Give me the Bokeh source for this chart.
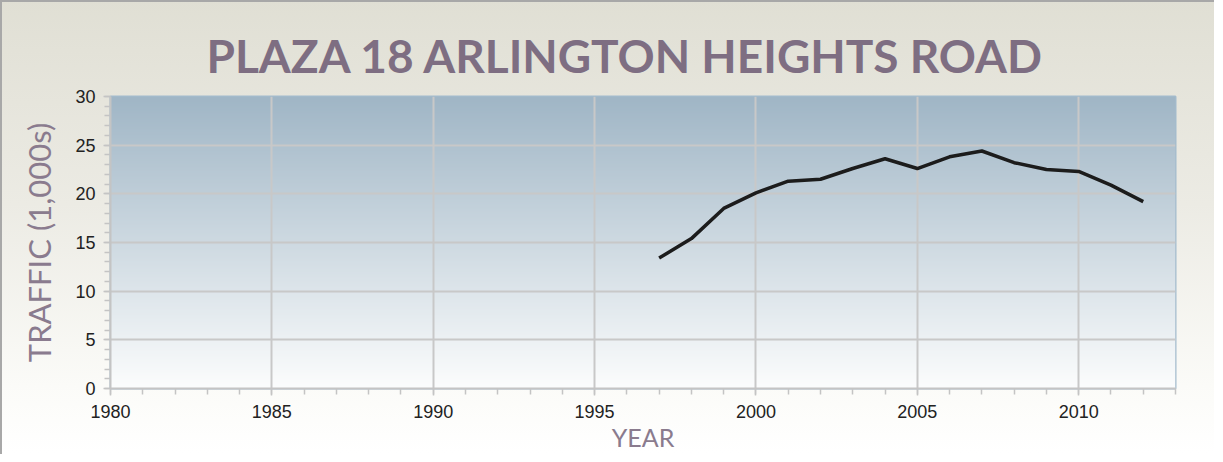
import numpy as np
from bokeh.plotting import figure
from bokeh.models import Range1d, SingleIntervalTicker, Title
from bokeh.embed import file_html
from bokeh.resources import INLINE

years = [1997, 1998, 1999, 2000, 2001, 2002, 2003, 2004, 2005, 2006, 2007, 2008, 2009, 2010, 2011, 2012]
traffic = [13.4, 15.4, 18.5, 20.1, 21.3, 21.5, 22.6, 23.6, 22.6, 23.8, 24.4, 23.2, 22.5, 22.3, 20.9, 19.2]

title_text = "PLAZA 18 ARLINGTON HEIGHTS ROAD"
x_label = "YEAR"
y_label = "TRAFFIC (1,000s)"

x0, x1 = 1980, 2013
y0, y1 = 0, 30

W, H = 1214, 454
BL, BR, BT, BB = 110, 39, 96, 66

p = figure(width=W, height=H, output_backend="svg", toolbar_location=None,
           x_range=Range1d(x0, x1), y_range=Range1d(y0, y1),
           min_border_left=BL, min_border_right=BR, min_border_top=BT, min_border_bottom=BB,
           border_fill_color=None, background_fill_color=None,
           styles={"background": "linear-gradient(to bottom, #e0dfd4 0%, #ecebe4 45%, #fbfbf8 85%, #ffffff 100%)",
                   "box-shadow": "inset 2px 2px 0 #a8a8a8"})

# plot-area vertical gradient
n = 256
top = np.array([160, 182, 198], dtype=float)
bot = np.array([252, 253, 253], dtype=float)
t = np.linspace(0, 1, n)[:, None]  # row 0 = bottom
cols = bot * (1 - t) + top * t
img = np.zeros((n, 2), dtype=np.uint32)
view = img.view(dtype=np.uint8).reshape((n, 2, 4))
view[:, :, 0] = cols[:, 0:1].astype(np.uint8)
view[:, :, 1] = cols[:, 1:2].astype(np.uint8)
view[:, :, 2] = cols[:, 2:3].astype(np.uint8)
view[:, :, 3] = 255
r_img = p.image_rgba(image=[img], x=x0, y=y0, dw=x1 - x0, dh=y1 - y0)
r_img.level = "image"

p.line(years, traffic, line_color="#1c1c1c", line_width=3.5)

ttl = Title(text=title_text, align="left", offset=96, text_font="Lato", text_font_size="46px",
            text_font_style="bold", text_color="#7e6e82", standoff=28)
p.add_layout(ttl, "above")

for ax in (p.xaxis[0], p.yaxis[0]):
    ax.ticker = SingleIntervalTicker(interval=5, num_minor_ticks=5)
    ax.axis_line_color = "#c4c4c4"
    ax.axis_line_width = 2
    ax.major_tick_line_color = "#c4c4c4"
    ax.minor_tick_line_color = "#c4c4c4"
    ax.major_tick_line_width = 1.5
    ax.minor_tick_line_width = 1.5
    ax.major_tick_in = 0
    ax.minor_tick_in = 0
    ax.major_tick_out = 7
    ax.minor_tick_out = 6
    ax.major_label_text_font = "Liberation Sans"
    ax.major_label_text_font_size = "18px"
    ax.major_label_text_color = "#222222"
    ax.axis_label_text_font = "Lato"
    ax.axis_label_text_font_style = "normal"
    ax.axis_label_text_color = "#8a7b8e"

p.xaxis.axis_label = x_label
p.yaxis.axis_label = y_label
p.xaxis.axis_label_text_font_size = "25px"
p.yaxis.axis_label_text_font_size = "31px"
p.xaxis.major_label_standoff = 9
p.yaxis.major_label_standoff = 8
p.xaxis.axis_label_standoff = 1
p.yaxis.axis_label_standoff = 14

p.grid.grid_line_color = "#c8c8c8"
p.grid.grid_line_width = 2
p.outline_line_color = "#a4bccd"
p.outline_line_width = 2

open("out.html", "w").write(file_html(p, INLINE))
